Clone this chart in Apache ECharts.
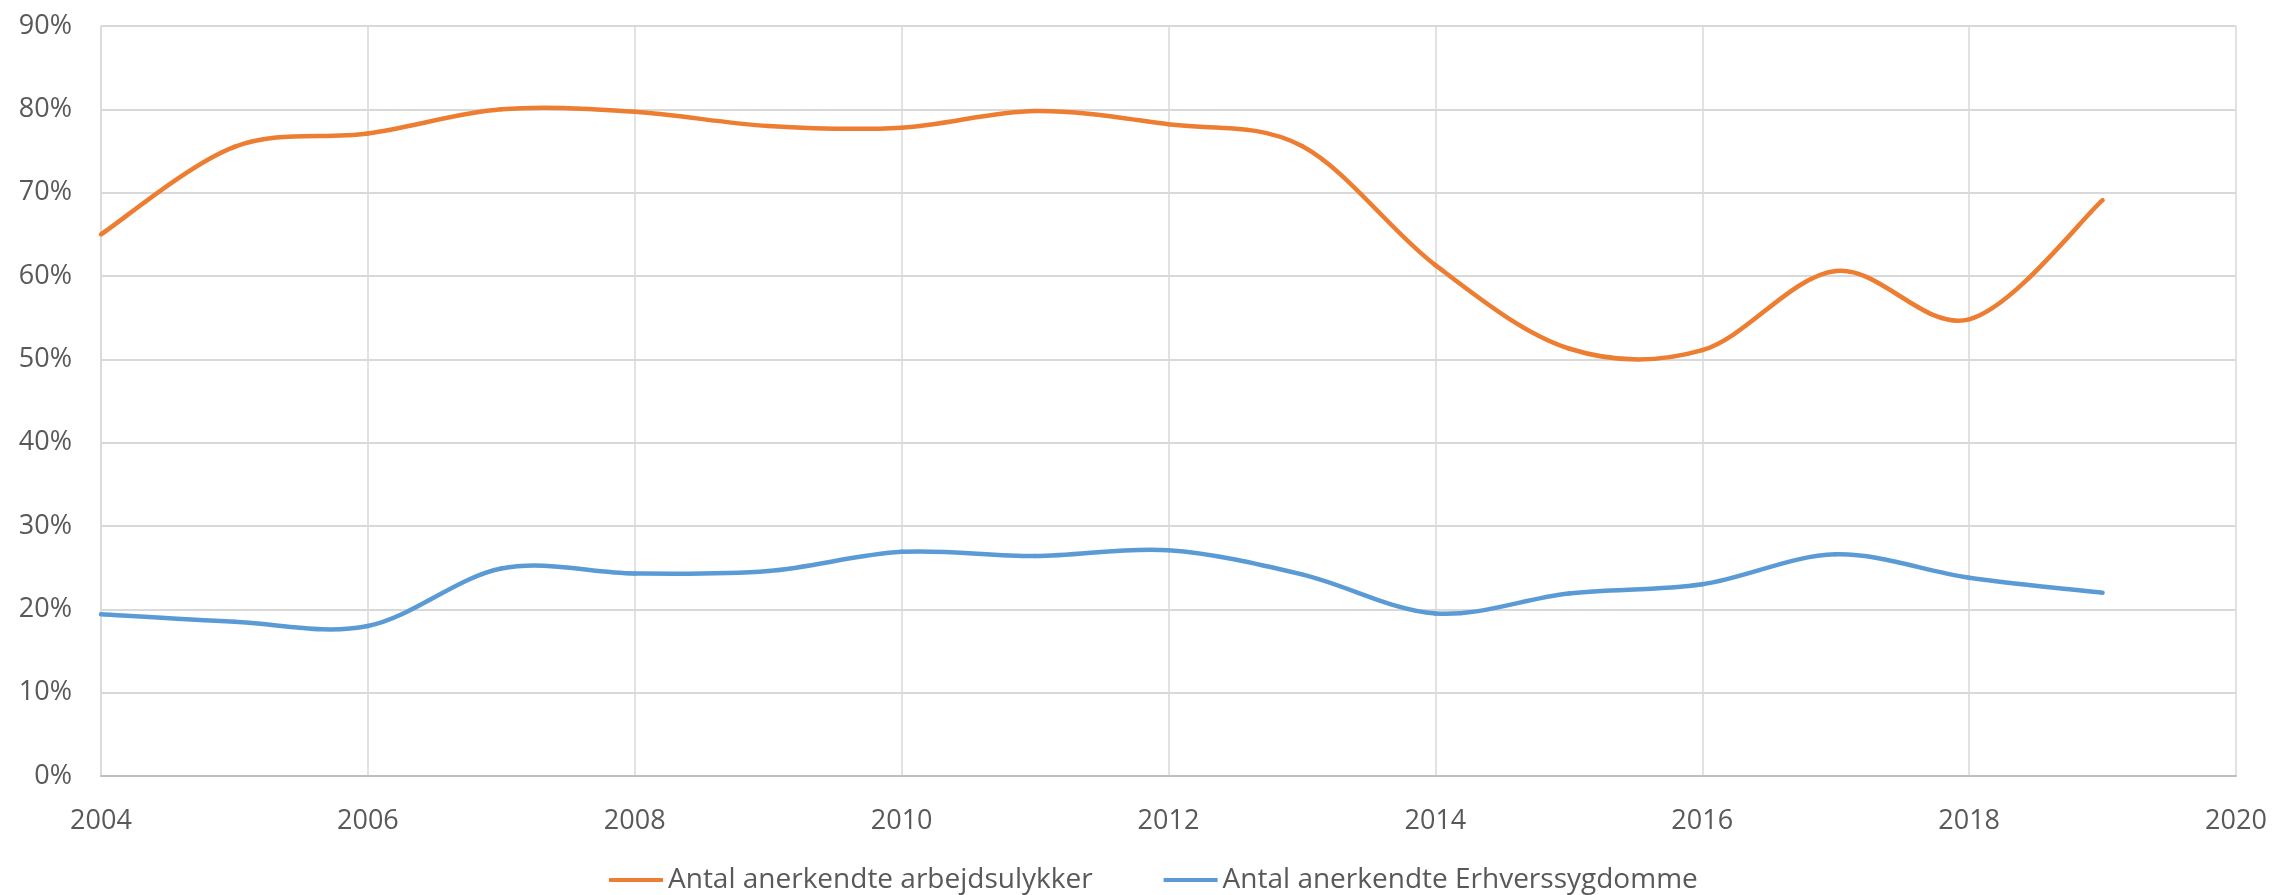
<!DOCTYPE html>
<html>
<head>
<meta charset="utf-8">
<script src="https://cdn.jsdelivr.net/npm/echarts@6/dist/echarts.min.js"></script>
<style>
  html, body { margin: 0; padding: 0; background: #fff; }
  #chart { width: 2272px; height: 895px; }
</style>
</head>
<body>
<div id="chart"></div>
<script>
const years = [2004, 2005, 2006, 2007, 2008, 2009, 2010, 2011, 2012, 2013, 2014, 2015, 2016, 2017, 2018, 2019];
const arbejdsulykker = [65.0, 75.5, 77.1, 80.0, 79.7, 78.0, 77.8, 79.8, 78.2, 75.6, 61.3, 51.3, 51.1, 60.6, 54.8, 69.1];
const erhvervssygdomme = [19.4, 18.5, 18.0, 24.9, 24.3, 24.6, 26.9, 26.4, 27.1, 24.2, 19.5, 21.9, 23.0, 26.6, 23.8, 22.0];
const seriesNames = ['Antal anerkendte arbejdsulykker', 'Antal anerkendte Erhverssygdomme'];
const xTicks = { min: 2004, max: 2020, step: 2 };
const yTicks = { min: 0, max: 90, step: 10 };

const colors = ['#ED7D31', '#5B9BD5'];
const font = '"Open Sans", "Noto Sans", sans-serif';
const textColor = '#595959';
const pair = (vals) => years.map((y, i) => [y, vals[i]]);

// Smoothed line (Catmull-Rom as cubic Bezier), one segment per data item,
// positioned through the chart's own axes via api.coord.
function splineRenderer(vals, color) {
  const n = years.length;
  const clampIdx = (k) => Math.max(0, Math.min(n - 1, k));
  return function (params, api) {
    const i = params.dataIndex;
    if (i >= n - 1) return null;
    const p = (k) => api.coord([years[clampIdx(k)], vals[clampIdx(k)]]);
    const p0 = p(i - 1), p1 = p(i), p2 = p(i + 1), p3 = p(i + 2);
    const t = 1 / 6;
    return {
      type: 'bezierCurve',
      shape: {
        x1: p1[0], y1: p1[1], x2: p2[0], y2: p2[1],
        cpx1: p1[0] + (p2[0] - p0[0]) * t,
        cpy1: p1[1] + (p2[1] - p0[1]) * t,
        cpx2: p2[0] - (p3[0] - p1[0]) * t,
        cpy2: p2[1] - (p3[1] - p1[1]) * t
      },
      style: { stroke: color, lineWidth: 4.5, fill: null, lineCap: 'round' }
    };
  };
}

const chart = echarts.init(document.getElementById('chart'), null, { renderer: 'canvas' });
chart.setOption({
  animation: false,
  backgroundColor: '#ffffff',
  grid: { left: 101, right: 36, top: 26, bottom: 119, containLabel: false },
  legend: {
    top: 866,
    left: 609,
    padding: 0,
    icon: 'rect',
    itemWidth: 54,
    itemHeight: 4,
    itemGap: 71,
    textStyle: { fontFamily: font, fontSize: 28, color: textColor },
    data: seriesNames
  },
  xAxis: {
    type: 'value',
    min: xTicks.min,
    max: xTicks.max,
    interval: xTicks.step,
    axisLine: { show: true, lineStyle: { color: '#bfbfbf', width: 2 } },
    axisTick: { show: false },
    splitLine: { show: true, lineStyle: { color: '#d9d9d9', width: 1.5 } },
    axisLabel: {
      margin: 32,
      fontFamily: font, fontSize: 27, color: textColor,
      formatter: (v) => String(v)
    }
  },
  yAxis: {
    type: 'value',
    min: yTicks.min,
    max: yTicks.max,
    interval: yTicks.step,
    axisLine: { show: true, lineStyle: { color: '#d9d9d9', width: 1.5 } },
    axisTick: { show: false },
    splitLine: { show: true, lineStyle: { color: '#d9d9d9', width: 2 } },
    axisLabel: {
      margin: 29,
      fontFamily: font, fontSize: 27, color: textColor,
      formatter: (v) => v + '%'
    }
  },
  series: [
    {
      name: seriesNames[0],
      type: 'custom',
      renderItem: splineRenderer(arbejdsulykker, colors[0]),
      encode: { x: 0, y: 1 },
      data: pair(arbejdsulykker),
      itemStyle: { color: colors[0] },
      z: 3
    },
    {
      name: seriesNames[1],
      type: 'custom',
      renderItem: splineRenderer(erhvervssygdomme, colors[1]),
      encode: { x: 0, y: 1 },
      data: pair(erhvervssygdomme),
      itemStyle: { color: colors[1] },
      z: 3
    }
  ]
});
</script>
</body>
</html>
